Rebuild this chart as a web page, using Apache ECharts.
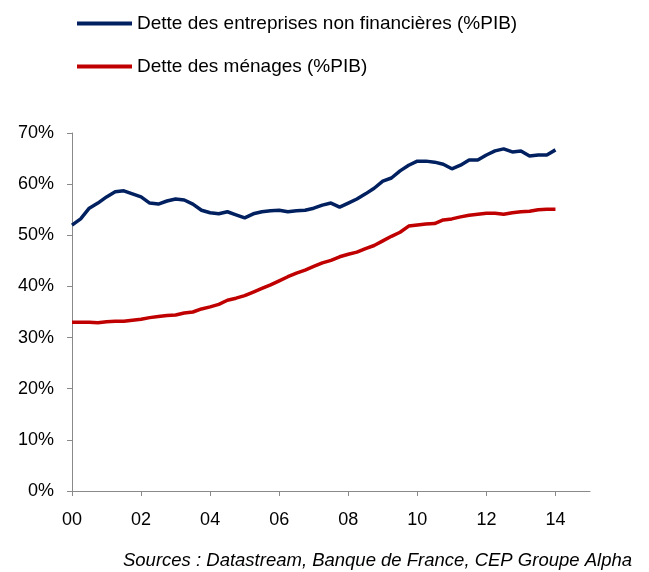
<!DOCTYPE html>
<html><head><meta charset="utf-8">
<script src="https://cdn.jsdelivr.net/npm/echarts@6/dist/echarts.min.js"></script>
<style>html,body{margin:0;padding:0;background:#fff}#c{width:649px;height:572px}</style>
</head><body><div id="c"></div>
<script>
// Quarterly categories 2000Q1 .. 2015Q1
const quarters = [
 '2000T1','2000T2','2000T3','2000T4','2001T1','2001T2','2001T3','2001T4',
 '2002T1','2002T2','2002T3','2002T4','2003T1','2003T2','2003T3','2003T4',
 '2004T1','2004T2','2004T3','2004T4','2005T1','2005T2','2005T3','2005T4',
 '2006T1','2006T2','2006T3','2006T4','2007T1','2007T2','2007T3','2007T4',
 '2008T1','2008T2','2008T3','2008T4','2009T1','2009T2','2009T3','2009T4',
 '2010T1','2010T2','2010T3','2010T4','2011T1','2011T2','2011T3','2011T4',
 '2012T1','2012T2','2012T3','2012T4','2013T1','2013T2','2013T3','2013T4',
 '2014T1','2014T2','2014T3','2014T4','2015T1'];
const tickLabels = ['00','02','04','06','08','10','12','14'];
const entreprises = [
 52.0,53.2,55.3,56.3,57.5,58.5,58.7,58.1,
 57.5,56.3,56.1,56.7,57.1,56.9,56.1,54.9,
 54.4,54.2,54.6,54.0,53.4,54.2,54.6,54.8,
 54.9,54.6,54.8,54.9,55.3,55.9,56.3,55.5,
 56.3,57.1,58.1,59.2,60.6,61.2,62.6,63.7,
 64.5,64.5,64.3,63.9,63.0,63.7,64.7,64.7,
 65.7,66.5,66.9,66.3,66.5,65.5,65.7,65.7,
 66.7];
const menages = [
 33.0,33.0,33.0,32.9,33.1,33.2,33.2,33.4,
 33.6,33.9,34.1,34.3,34.4,34.8,35.0,35.6,
 36.0,36.5,37.3,37.7,38.2,38.9,39.6,40.3,
 41.1,41.9,42.6,43.2,43.9,44.6,45.1,45.8,
 46.3,46.7,47.4,48.0,48.9,49.8,50.6,51.8,
 52.0,52.2,52.3,53.0,53.2,53.6,53.9,54.1,
 54.3,54.3,54.1,54.4,54.6,54.7,55.0,55.1,
 55.1];
const seriesNames = ['Dette des entreprises non financières (%PIB)','Dette des ménages (%PIB)'];
const source = 'Sources : Datastream, Banque de France, CEP Groupe Alpha';

const FONT = 'Liberation Sans';
const AXIS = '#898989';
const chart = echarts.init(document.getElementById('c'));
const showTick = (i) => i % 8 === 0 && i <= 56;
chart.setOption({
  animation: false,
  legend: {
    orient: 'vertical', left: 77, top: 14, itemGap: 24, padding: 0,
    itemWidth: 55, itemHeight: 4, icon: 'rect',
    textStyle: {fontFamily: FONT, fontSize: 19, color: '#000'},
    data: seriesNames
  },
  grid: {left: 72, right: 59, top: 133, bottom: 81, containLabel: false},
  xAxis: {
    type: 'category', data: quarters, boundaryGap: false,
    axisLine: {lineStyle: {color: AXIS, width: 1}},
    axisTick: {show: true, interval: (i) => showTick(i), length: 5, lineStyle: {color: AXIS}},
    axisLabel: {interval: (i) => showTick(i), formatter: (v, i) => tickLabels[i / 8],
      fontFamily: FONT, fontSize: 18, color: '#000', margin: 20},
    splitLine: {show: false}
  },
  yAxis: {
    type: 'value', min: 0, max: 70, interval: 10,
    axisLine: {show: true, lineStyle: {color: AXIS, width: 1}},
    axisTick: {show: true, length: 5, lineStyle: {color: AXIS}},
    axisLabel: {formatter: '{value}%', fontFamily: FONT, fontSize: 18, color: '#000', margin: 18},
    splitLine: {show: false}
  },
  graphic: [{
    type: 'text', right: 17, top: 551,
    style: {text: source, font: 'italic 18.5px "Liberation Sans"', fill: '#000'}
  }],
  series: [
    {name: seriesNames[0], type: 'line', data: entreprises, showSymbol: false, symbol: 'none',
     lineStyle: {color: '#002060', width: 3.5}, itemStyle: {color: '#002060'}},
    {name: seriesNames[1], type: 'line', data: menages, showSymbol: false, symbol: 'none',
     lineStyle: {color: '#C00000', width: 3.5}, itemStyle: {color: '#C00000'}}
  ]
});
</script></body></html>
